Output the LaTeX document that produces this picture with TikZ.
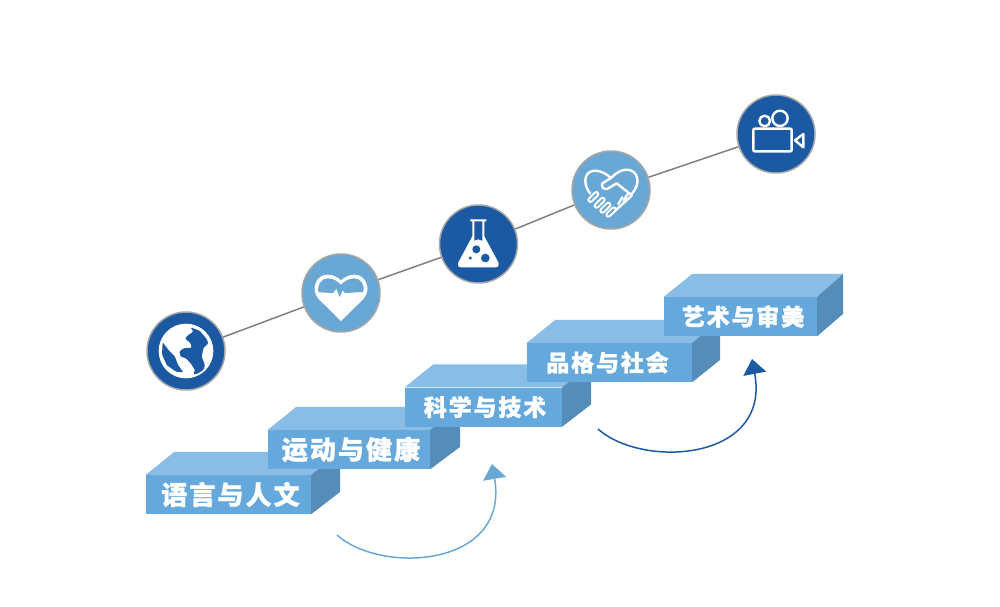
\documentclass[tikz,border=0pt]{standalone}
\usepackage{fontspec}
\usepackage{tikz}
\usetikzlibrary{arrows.meta,calc}
\newfontfamily\cjk[LetterSpace=8,FakeBold=1.2]{Noto Sans CJK SC}
\definecolor{darkblue}{HTML}{1B5AA3}
\definecolor{midblue}{HTML}{69A8D5}
\definecolor{frontblue}{HTML}{65A8DC}
\definecolor{topblue}{HTML}{8ABDE6}
\definecolor{sideblue}{HTML}{558DB8}
\tikzset{
	badge/.style={circle,draw=black!35,line width=1.5pt,minimum size=78pt,inner sep=0pt},
	link/.style={draw=black!50,line width=1.5pt},
	front/.style={fill=frontblue,inner sep=0pt},
	steplabel/.style={text=white,inner sep=0pt},
	icon/.style={draw=white,line width=2.4pt,line join=round,line cap=round},
	swing/.style={line width=1.5pt,-{Triangle[length=15pt,width=23pt]}}
}
\begin{document}
\begin{tikzpicture}[x=1pt,y=-1pt]
	\useasboundingbox (0,0) rectangle (1000,606);
	% stairs
	\foreach \n/\cx/\cy/\fw/\rd/\fs/\tx/\txt in {1/228.5/494.5/165/29/26/230.5/语言与人文,2/349/449.5/162/30/26/351/运动与健康,3/483.5/407/157/29/23/485/科学与技术,4/609.5/362.5/165/28/23/607.5/品格与社会,5/740.5/316.5/153/26/23/743/艺术与审美}{
		\node[front,minimum width=\fw pt,minimum height=39pt] (front\n) at (\cx,\cy){};
		\fill[topblue] (front\n.north west)--++(28.5,-23)--($(front\n.north east)+(\rd,-23)$)--(front\n.north east)--cycle;
		\fill[sideblue] (front\n.north east)--++(\rd,-23)--++(0,40)--(front\n.south east)--cycle;
		\node[steplabel] (label\n) at (\tx,\cy){\cjk\bfseries\fontsize{\fs}{\fs}\selectfont\txt};
	}
	% badges on the line
	\node[badge,fill=darkblue] (globe) at (186,351){};
	\node[badge,fill=midblue] (heart) at (341,293){};
	\node[badge,fill=darkblue] (flask) at (478.5,244){};
	\node[badge,fill=midblue] (shake) at (611,190){};
	\node[badge,fill=darkblue] (camera) at (776,134){};
	\draw[link] (globe)--(heart);
	\draw[link] (heart)--(flask);
	\draw[link] (flask)--(shake);
	\draw[link] (shake)--(camera);
	% globe
	\begin{scope}[shift={(150,315)},scale=1/3]
		\fill[white] (108,108) circle(82);
		\fill[darkblue,rounded corners=1pt] (38,82)--(58,108)--(75,125)--(84,150)--(100,172)--(78,170)--(50,150)--(36,118)--cycle;
		\fill[darkblue,rounded corners=1pt] (122,37)--(130,50)--(115,60)--(105,70)--(122,85)--(125,98)--(100,100)--(88,110)--(92,125)--(108,130)--(122,145)--(135,165)--(130,178)--(142,176)--(160,165)--(165,150)--(155,125)--(160,100)--(175,85)--(170,72)--(150,48)--cycle;
	\end{scope}
	% heart
	\begin{scope}[shift={(305,257)},scale=1/3]
		\fill[white] (108,192)--(40,125) .. controls (15,95) and (35,52) .. (68,53) .. controls (85,53) and (100,62) .. (108,70) .. controls (116,62) and (131,53) .. (148,53) .. controls (181,52) and (201,95) .. (176,125)--cycle;
		\fill[midblue] (41,106)--(84,108)--(94,95)--(104,120)--(113,100)--(120,108)--(175,105) .. controls (182,85) and (165,63) .. (148,64) .. controls (130,64) and (115,75) .. (108,84) .. controls (101,75) and (86,64) .. (68,64) .. controls (51,63) and (34,85) .. (41,106)--cycle;
	\end{scope}
	% flask
	\begin{scope}[shift={(442,208)},scale=1/3]
		\fill[white] (85,34)--(133,34)--(133,40)--(127,40)--(127,85)--(170,165) .. controls (172,174) and (168,178) .. (162,178)--(56,178) .. controls (50,178) and (46,174) .. (48,165)--(91,85)--(91,40)--(85,40)--cycle;
		\fill[darkblue] (97,40)--(121,40)--(121,98)--(108,94)--(97,98)--cycle;
		\fill[darkblue] (103,124) circle(12);
		\fill[darkblue] (130,150) circle(13);
		\fill[darkblue] (85,150) circle(5);
	\end{scope}
	% handshake
	\begin{scope}[shift={(575,154)},scale=1/3]
		\draw[icon] (45,118) .. controls (20,85) and (30,50) .. (60,50) .. controls (78,50) and (95,60) .. (108,72) .. controls (125,55) and (140,47) .. (155,47) .. controls (190,47) and (200,90) .. (168,122);
		\draw[icon] (108,72)--(82,88) .. controls (78,98) and (85,108) .. (98,104)--(125,88)--(168,122);
		\draw[icon] (112,178)--(170,125);
		\draw[icon] (130,150)--(142,130);
		\draw[icon] (146,140)--(158,120);
		\foreach \ax/\ay/\bx/\by in {46/138/64/120,65/155/83/137,82/170/100/152,100/182/116/166}{
			\draw[white,line width=6pt,line cap=round] (\ax,\ay)--(\bx,\by);
			\draw[midblue,line width=1.8pt,line cap=round] (\ax,\ay)--(\bx,\by);
		}
	\end{scope}
	% camera
	\begin{scope}[shift={(740,98)},scale=1/3]
		\draw[icon] (40,98) .. controls (40,92) .. (46,92)--(149,92) .. controls (155,92) .. (155,98)--(155,154) .. controls (155,160) .. (149,160)--(46,160) .. controls (40,160) .. (40,154)--cycle;
		\draw[icon] (165,127)--(190,108)--(190,148)--cycle;
		\draw[icon] (74,69) circle(16);
		\draw[icon] (120,61) circle(23);
	\end{scope}
	% arrows under the stairs
	\coordinate (swingA) at (337,535);
	\coordinate (swingAa) at (382,575);
	\coordinate (swingAb) at (510,567);
	\coordinate (swingAe) at (492,464);
	\coordinate (swingB) at (598,429);
	\coordinate (swingBa) at (643,469);
	\coordinate (swingBb) at (771,461);
	\coordinate (swingBe) at (752,359);
	\draw[swing,midblue] (swingA) .. controls (swingAa) and (swingAb) .. (swingAe);
	\draw[swing,darkblue] (swingB) .. controls (swingBa) and (swingBb) .. (swingBe);
\end{tikzpicture}
\end{document}
